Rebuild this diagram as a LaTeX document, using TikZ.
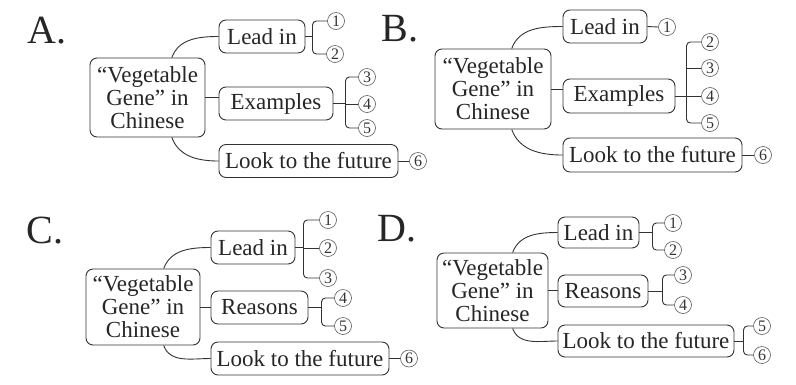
\documentclass[tikz,border=0pt]{standalone}
\usepackage{fontspec}
\setmainfont{Liberation Serif}
\usetikzlibrary{calc}
\tikzset{
  ln/.style={draw=black!80, line width=0.9pt},
  cbox/.style={ln, rounded corners=7pt, align=center, inner sep=2pt, font=\fontsize{23}{23}\selectfont, text=black!85},
  sbox/.style={ln, rounded corners=7pt, inner sep=2pt, minimum height=33pt, font=\fontsize{23}{23}\selectfont, text=black!85},
  num/.style={circle, draw=black!65, line width=0.6pt, inner sep=0pt, minimum size=17pt, font=\fontsize{16}{16}\selectfont, text=black!80},
  lab/.style={font=\fontsize{40}{40}\selectfont, text=black!85},
  conn/.style={ln},
  brk/.style={ln, rounded corners=4pt}
}
\begin{document}
\begin{tikzpicture}[x=1pt,y=-1pt]
\useasboundingbox[fill=white] (0,0) rectangle (796,384);

% ---------- Panel A ----------
\node[lab] (labA) at (47,31) {A.};
\node[cbox, minimum width=115pt, minimum height=79pt] (cA) at (147.5,97.5) {“Vegetable\\Gene” in\\Chinese};
\node[sbox, minimum width=86pt] (leadA) at (262,36.5) {Lead in};
\node[sbox, minimum width=114pt] (exA) at (276,103.5) {Examples};
\node[sbox, minimum width=179pt] (futA) at (308.5,161) {Look to the future};
\node[num] (a1) at (336,21) {1};
\node[num] (a2) at (335,54) {2};
\node[num] (a3) at (367,77) {3};
\node[num] (a4) at (367,104) {4};
\node[num] (a5) at (367,128) {5};
\node[num] (a6) at (418,161) {6};
\draw[conn] ($(cA.north west)!0.71!(cA.north east)$) to[out=70,in=180] (leadA.west);
\draw[conn] ($(cA.south west)!0.71!(cA.south east)$) to[out=-70,in=180] (futA.west);
\draw[conn] (cA.east) -- (cA.east -| exA.west);
\coordinate (bA1) at ($(leadA.east)+(7,0)$);
\draw[conn] (leadA.east) -- (bA1);
\draw[brk] (a1.west) -| (bA1) |- (a2.west);
\coordinate (bA2) at ($(exA.east)+(12,0)$);
\draw[conn] (exA.east) -- (bA2);
\draw[brk] (a3.west) -| (bA2) |- (a5.west);
\draw[conn] (bA2 |- a4.west) -- (a4.west);
\draw[conn] (futA.east) -- (a6.west);

% ---------- Panel B ----------
\node[lab] (labB) at (400,29) {B.};
\node[cbox, minimum width=116pt, minimum height=80pt] (cB) at (493,89) {“Vegetable\\Gene” in\\Chinese};
\node[sbox, minimum width=84pt] (leadB) at (605,26.5) {Lead in};
\node[sbox, minimum width=112pt, minimum height=34pt] (exB) at (619,96) {Examples};
\node[sbox, minimum width=179pt, minimum height=34pt] (futB) at (652.5,155) {Look to the future};
\node[num] (b1) at (667,27) {1};
\node[num] (b2) at (710,42) {2};
\node[num] (b3) at (710,68) {3};
\node[num] (b4) at (710,96) {4};
\node[num] (b5) at (710,123) {5};
\node[num] (b6) at (763,155) {6};
\draw[conn] ($(cB.north west)!0.66!(cB.north east)$) to[out=70,in=180] (leadB.west);
\draw[conn] ($(cB.south west)!0.66!(cB.south east)$) to[out=-70,in=180] (futB.west);
\draw[conn] (cB.east) -- (cB.east -| exB.west);
\draw[conn] (leadB.east) -- (b1.west);
\coordinate (bB2) at ($(exB.east)+(11,0)$);
\draw[conn] (exB.east) -- (bB2);
\draw[brk] (b2.west) -| (bB2) |- (b5.west);
\draw[conn] (bB2 |- b3.west) -- (b3.west);
\draw[conn] (bB2 |- b4.west) -- (b4.west);
\draw[conn] (futB.east) -- (b6.west);

% ---------- Panel C ----------
\node[lab] (labC) at (45,231) {C.};
\node[cbox, minimum width=114pt, minimum height=76pt] (cC) at (143,307) {“Vegetable\\Gene” in\\Chinese};
\node[sbox, minimum width=84pt] (leadC) at (253,247.5) {Lead in};
\node[sbox, minimum width=97pt] (reC) at (259.5,307.5) {Reasons};
\node[sbox, minimum width=178pt] (futC) at (300,358.5) {Look to the future};
\node[num] (c1) at (328,220) {1};
\node[num] (c2) at (328,248) {2};
\node[num] (c3) at (328,278) {3};
\node[num] (c4) at (343,298) {4};
\node[num] (c5) at (343,326) {5};
\node[num] (c6) at (409,358.5) {6};
\draw[conn] ($(cC.north west)!0.68!(cC.north east)$) to[out=70,in=180] (leadC.west);
\draw[conn] ($(cC.south west)!0.68!(cC.south east)$) to[out=-70,in=180] (futC.west);
\draw[conn] (cC.east) -- (cC.east -| reC.west);
\coordinate (bC1) at ($(leadC.east)+(8,0)$);
\draw[conn] (leadC.east) -- (bC1);
\draw[brk] (c1.west) -| (bC1) |- (c3.west);
\draw[conn] (bC1 |- c2.west) -- (c2.west);
\coordinate (bC2) at ($(reC.east)+(13,0)$);
\draw[conn] (reC.east) -- (bC2);
\draw[brk] (c4.west) -| (bC2) |- (c5.west);
\draw[conn] (futC.east) -- (c6.west);

% ---------- Panel D ----------
\node[lab] (labD) at (397,229) {D.};
\node[cbox, minimum width=111pt, minimum height=75pt] (cD) at (492.5,290.5) {“Vegetable\\Gene” in\\Chinese};
\node[sbox, minimum width=81pt, minimum height=31pt] (leadD) at (598.5,232.5) {Lead in};
\node[sbox, minimum width=90pt, minimum height=32pt] (reD) at (603,291) {Reasons};
\node[sbox, minimum width=176pt, minimum height=32pt] (futD) at (646,341) {Look to the future};
\node[num] (d1) at (673,223) {1};
\node[num] (d2) at (673,250) {2};
\node[num] (d3) at (683,275) {3};
\node[num] (d4) at (683,305) {4};
\node[num] (d5) at (762,326) {5};
\node[num] (d6) at (762,355) {6};
\draw[conn] ($(cD.north west)!0.68!(cD.north east)$) to[out=70,in=180] (leadD.west);
\draw[conn] ($(cD.south west)!0.68!(cD.south east)$) to[out=-70,in=180] (futD.west);
\draw[conn] (cD.east) -- (cD.east -| reD.west);
\coordinate (bD1) at ($(leadD.east)+(13,0)$);
\draw[conn] (leadD.east) -- (bD1);
\draw[brk] (d1.west) -| (bD1) |- (d2.west);
\coordinate (bD2) at ($(reD.east)+(14,0)$);
\draw[conn] (reD.east) -- (bD2);
\draw[brk] (d3.west) -| (bD2) |- (d4.west);
\coordinate (bD3) at ($(futD.east)+(9,0)$);
\draw[conn] (futD.east) -- (bD3);
\draw[brk] (d5.west) -| (bD3) |- (d6.west);
\end{tikzpicture}
\end{document}
